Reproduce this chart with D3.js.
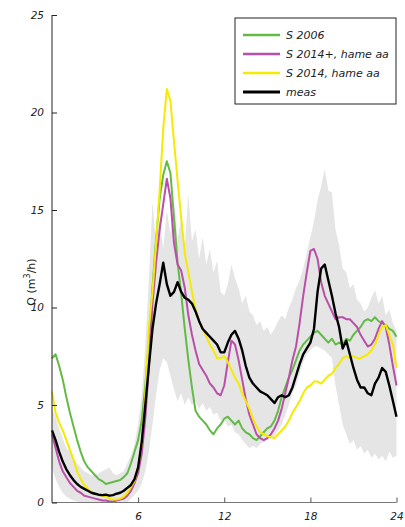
<!DOCTYPE html>
<html>
<head>
<meta charset="utf-8">
<script src="https://cdn.jsdelivr.net/npm/d3@7/dist/d3.min.js"></script>
<style>
  html, body { margin: 0; padding: 0; background: #fff; }
  svg { display: block; }
  .tick text { font-family: "DejaVu Sans", sans-serif; font-style: italic; font-size: 10.5px; fill: #222; }
</style>
</head>
<body>
<svg id="chart" width="405" height="527"></svg>
<script>
// Hour of day, sampled every 15 minutes (0 .. 24)
const hours = d3.range(0, 24.001, 0.25);

// Flow Q (m3/h) per 15-minute step
const s2006 = [
  7.4, 7.6, 7.0, 6.3, 5.4, 4.6, 3.9, 3.2, 2.6, 2.1, 1.8, 1.6,
  1.4, 1.2, 1.1, 0.95, 1.0, 1.05, 1.1, 1.15, 1.3, 1.5, 2.0, 2.6,
  3.2, 4.2, 6.0, 8.2, 11.0, 13.5, 15.6, 16.8, 17.5, 16.9, 14.6, 12.3,
  10.7, 8.9, 7.3, 5.9, 4.7, 4.4, 4.2, 4.0, 3.7, 3.5, 3.8, 4.0,
  4.3, 4.4, 4.2, 4.0, 4.2, 3.8, 3.6, 3.5, 3.3, 3.2, 3.4, 3.6,
  3.8, 3.9, 4.2, 4.7, 5.4, 5.9, 6.4, 6.8, 7.3, 7.8, 8.1, 8.3,
  8.5, 8.7, 8.8, 8.6, 8.4, 8.2, 8.4, 8.1, 8.2, 8.1, 8.4, 8.3,
  8.6, 8.8, 9.0, 9.3, 9.4, 9.3, 9.5, 9.3, 9.2, 9.1, 8.9, 8.8,
  8.5
];

const s2014plus = [
  3.5, 2.8, 2.1, 1.6, 1.3, 1.0, 0.8, 0.6, 0.5, 0.35, 0.3, 0.25,
  0.2, 0.15, 0.1, 0.1, 0.05, 0.05, 0.1, 0.15, 0.2, 0.35, 0.6, 1.0,
  1.5, 2.5, 4.3, 7.0, 10.2, 12.3, 14.0, 15.3, 16.6, 15.6, 13.3, 12.2,
  11.9, 11.0, 9.6, 8.6, 7.8, 7.1, 6.8, 6.5, 6.1, 5.9, 5.6, 5.5,
  6.0, 7.2, 8.3, 8.1, 7.3, 6.3, 5.3, 4.5, 4.0, 3.5, 3.3, 3.2,
  3.3, 3.5, 3.8, 4.2, 4.8, 5.6, 6.4, 7.3, 8.0, 9.2, 10.6, 11.8,
  12.9, 13.0, 12.5, 11.3, 10.6, 10.2, 9.8, 9.4, 9.5, 9.5, 9.4, 9.4,
  9.2, 9.0, 8.6, 8.3, 8.0, 8.1, 8.4, 8.9, 9.3, 9.0, 8.1, 7.0,
  6.0
];

const s2014 = [
  5.7, 4.6, 4.1, 3.7, 3.2, 2.7, 2.2, 1.6, 1.2, 0.9, 0.7, 0.5,
  0.45, 0.4, 0.35, 0.3, 0.2, 0.15, 0.15, 0.2, 0.3, 0.5, 0.8, 1.1,
  1.8, 3.0, 5.5, 9.0, 10.8, 13.3, 16.0, 19.2, 21.2, 20.6, 18.5, 16.5,
  14.6, 12.8, 11.8, 10.8, 9.9, 9.3, 8.9, 8.5, 8.1, 7.8, 7.4, 7.4,
  7.5, 7.2, 6.8, 6.4, 6.1, 5.6, 5.2, 4.8, 4.3, 3.9, 3.6, 3.5,
  3.4, 3.35, 3.3, 3.5, 3.7, 3.9, 4.2, 4.6, 4.9, 5.2, 5.6, 5.9,
  6.0, 6.2, 6.2, 6.1, 6.3, 6.5, 6.6, 6.9, 7.1, 7.4, 7.5, 7.4,
  7.5, 7.4, 7.4, 7.5, 7.6, 7.8, 8.1, 8.6, 9.0, 9.1, 8.6, 8.1,
  6.9
];

const meas = [
  3.7, 3.2, 2.6, 2.1, 1.7, 1.4, 1.15, 0.95, 0.8, 0.7, 0.6, 0.5,
  0.45, 0.4, 0.38, 0.4, 0.35, 0.38, 0.45, 0.5, 0.6, 0.75, 0.9, 1.2,
  1.8, 3.1, 5.0, 7.0, 8.9, 10.2, 11.2, 12.3, 11.2, 10.6, 10.8, 11.3,
  10.8, 10.5, 10.4, 10.2, 9.8, 9.3, 8.9, 8.7, 8.5, 8.3, 8.1, 7.7,
  7.7, 8.2, 8.6, 8.8, 8.4, 7.8, 7.0, 6.4, 6.1, 5.9, 5.7, 5.6,
  5.5, 5.3, 5.1, 5.4, 5.5, 5.4, 5.5, 5.9, 6.5, 7.1, 7.6, 7.9,
  8.2, 8.9, 10.8, 12.0, 12.2, 11.4, 10.6, 9.7, 9.0, 7.9, 8.3, 7.6,
  6.9, 6.3, 5.9, 5.9, 5.6, 5.5, 6.1, 6.4, 6.9, 6.7, 6.0, 5.2,
  4.4
];

// Spread of the measured days: upper and lower envelope
const measMax = [
  4.8, 4.4, 3.8, 3.3, 2.8, 2.6, 2.2, 2.0, 1.8, 1.6, 1.5, 1.4,
  1.4, 1.5, 1.6, 1.7, 1.8, 1.5, 1.4, 1.5, 1.6, 2.0, 2.4, 3.0,
  4.0, 5.5, 8.0, 11.5, 15.4, 13.2, 14.5, 13.0, 15.0, 13.8, 15.3, 13.5,
  14.6, 13.2, 15.8, 13.4, 14.0, 12.5, 13.6, 12.2, 13.0, 11.8, 12.4, 10.8,
  10.6, 11.2, 12.2, 11.5, 11.0, 10.2, 10.6, 9.8, 9.6, 9.1, 9.3, 8.8,
  9.0, 8.6, 8.9, 9.3, 9.6, 9.4, 10.0, 10.4, 11.0, 11.4, 12.0, 12.8,
  13.6, 14.4, 15.5, 16.2, 17.1, 16.0, 15.9, 14.0, 13.2, 12.0, 11.8, 11.0,
  11.2, 10.4, 10.2, 9.8, 10.0, 10.5, 10.9, 10.2, 10.6, 9.6, 9.9, 9.2,
  8.8
];

const measMin = [
  1.8, 1.2, 0.8, 0.5, 0.3, 0.2, 0.1, 0.05, 0.0, 0.0, 0.0, 0.0,
  0.0, 0.0, 0.0, 0.0, 0.0, 0.0, 0.0, 0.0, 0.0, 0.0, 0.2, 0.4,
  0.6, 1.0, 1.6, 2.6, 4.0, 5.5, 6.8, 7.4, 7.2, 6.5, 5.8, 5.2,
  5.6, 5.0, 5.4, 5.0, 5.2, 4.8, 5.1, 4.7, 4.9, 4.5, 4.6, 4.2,
  4.3, 3.9, 4.0, 3.6, 3.5, 3.2, 3.0, 2.8, 2.9, 2.8, 3.0, 3.1,
  3.2, 3.3, 3.4, 3.7, 4.0, 4.5, 5.0, 5.6, 6.0, 6.6, 7.2, 7.6,
  7.8, 8.0, 8.0, 7.9, 7.8, 7.6, 7.4, 6.0, 5.0, 4.0, 3.5, 3.0,
  3.2, 2.7, 2.9, 2.5, 2.7, 2.3, 2.5, 2.2, 2.4, 2.1, 2.6, 2.3,
  2.4
];

const xTicks = [0, 6, 12, 18, 24];
const yTicks = [0, 5, 10, 15, 20, 25];

const series = [
  { name: "S 2006",           values: s2006,     color: "#63bb45", width: 2 },
  { name: "S 2014+, hame aa", values: s2014plus, color: "#b94fa8", width: 2 },
  { name: "S 2014, hame aa",  values: s2014,     color: "#f5ea00", width: 2 },
  { name: "meas",             values: meas,      color: "#000000", width: 2.4 }
];

const svg = d3.select("#chart");

const x = d3.scaleLinear().domain([0, 24]).range([52, 396.5]);
const y = d3.scaleLinear().domain([0, 25]).range([502.5, 15]);

// grey envelope of measurements
const band = d3.area()
  .x((d, i) => x(hours[i]))
  .y0((d, i) => y(measMin[i]))
  .y1((d, i) => y(measMax[i]));

svg.append("path")
  .datum(measMax)
  .attr("d", band)
  .attr("fill", "#e5e5e5")
  .attr("stroke", "none");

// model and measured lines
const line = d3.line()
  .x((d, i) => x(hours[i]))
  .y(d => y(d));

svg.append("g")
  .selectAll("path")
  .data(series)
  .join("path")
  .attr("d", s => line(s.values))
  .attr("fill", "none")
  .attr("stroke", s => s.color)
  .attr("stroke-width", s => s.width)
  .attr("stroke-linejoin", "round");

// axes
const xAxis = d3.axisBottom(x)
  .tickValues(xTicks.filter(t => t > 0))
  .tickSize(-5)
  .tickPadding(10)
  .tickFormat(d3.format("d"));

const gx = svg.append("g")
  .attr("transform", `translate(0,${y(0)})`)
  .call(xAxis);
gx.select(".domain").attr("stroke", "#777").attr("stroke-width", 1.2)
  .attr("d", `M${x(0)},0H${x(24)}`);
gx.selectAll(".tick line").attr("stroke", "#555");

const yAxis = d3.axisLeft(y)
  .tickValues(yTicks)
  .tickSize(-5)
  .tickPadding(8)
  .tickFormat(d3.format("d"));

const gy = svg.append("g")
  .attr("transform", `translate(${x(0)},0)`)
  .call(yAxis);
gy.select(".domain").attr("stroke", "#222").attr("stroke-width", 1)
  .attr("d", `M0,${y(0)}V${y(25)}`);
gy.selectAll(".tick line").attr("stroke", "#222");

// y-axis title
const yt = svg.append("text")
  .attr("transform", "translate(35,282) rotate(-90)")
  .attr("text-anchor", "middle")
  .style("font-family", "'DejaVu Sans', sans-serif")
  .style("font-size", "11px")
  .attr("fill", "#222");
yt.append("tspan").text("Q (m");
yt.append("tspan").attr("dy", -5).style("font-size", "8px").text("3");
yt.append("tspan").attr("dy", 5).text("/h)");

// legend
const lg = svg.append("g").attr("transform", "translate(235,18)");
lg.append("rect")
  .attr("x", 0).attr("y", 0)
  .attr("width", 161).attr("height", 86)
  .attr("fill", "#fff")
  .attr("stroke", "#222")
  .attr("stroke-width", 1);

const rows = lg.selectAll("g.row")
  .data(series)
  .join("g")
  .attr("class", "row")
  .attr("transform", (d, i) => `translate(0,${17 + i * 19})`);

rows.append("line")
  .attr("x1", 8).attr("x2", 45)
  .attr("y1", 0).attr("y2", 0)
  .attr("stroke", d => d.color)
  .attr("stroke-width", d => d.width + 0.4);

rows.append("text")
  .attr("x", 51).attr("y", 4)
  .style("font-family", "'DejaVu Sans', sans-serif")
  .style("font-style", "italic")
  .style("font-size", "11px")
  .attr("fill", "#222")
  .text(d => d.name);
</script>
</body>
</html>
